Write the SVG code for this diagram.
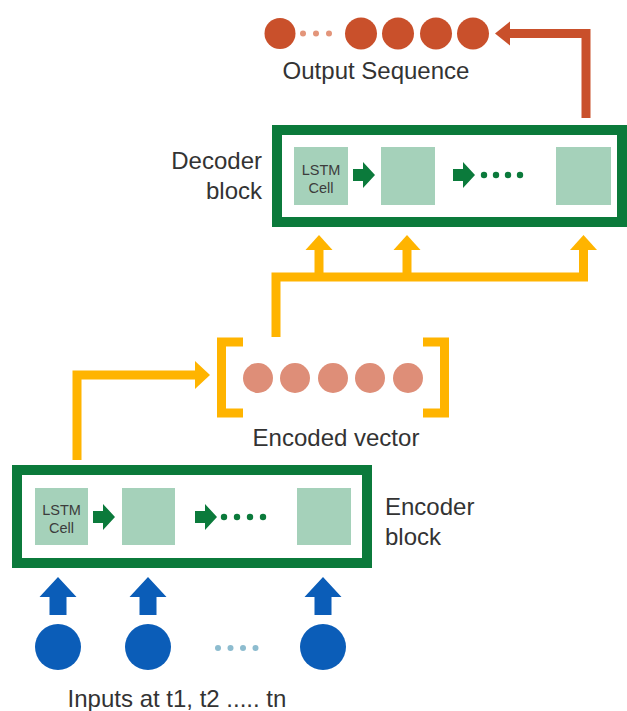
<svg xmlns="http://www.w3.org/2000/svg" width="627" height="711" viewBox="0 0 627 711">
<defs>
<style>
.lbl{font-family:"Liberation Sans",Arial,sans-serif;font-size:24px;fill:#333333}
.cellt{font-family:"Liberation Sans",Arial,sans-serif;font-size:14.5px;fill:#3c3c3c;text-anchor:middle}
.box{fill:#ffffff;stroke:#0B7A3B;stroke-width:10}
.cell{fill:#A5D1BA}
.garrow{fill:#0B7A3B}
.gdot{fill:#0B7A3B}
.yl{fill:none;stroke:#FFB400;stroke-width:9;stroke-linejoin:miter}
.yh{fill:#FFB400}
.ol{fill:none;stroke:#C9502B;stroke-width:9}
.oh{fill:#C9502B}
.bh{fill:#0B5DB8}
.out{fill:#C9502B}
.enc{fill:#DE8E78}
</style>
</defs>
<rect width="627" height="711" fill="#ffffff"/>

<g id="output-sequence">
<circle class="out" cx="280" cy="33.5" r="15.5"/>
<circle cx="303" cy="33.5" r="3" fill="#E3957A"/>
<circle cx="316" cy="33.5" r="3" fill="#E3957A"/>
<circle cx="329" cy="33.5" r="3" fill="#E3957A"/>
<circle class="out" cx="361" cy="33.5" r="16"/>
<circle class="out" cx="398" cy="33.5" r="16"/>
<circle class="out" cx="436" cy="33.5" r="16"/>
<circle class="out" cx="473" cy="33.5" r="16"/>
<text class="lbl" x="376" y="79" text-anchor="middle">Output Sequence</text>
</g>

<g id="decoder-block">
<rect class="box" x="277" y="130" width="345" height="92"/>
<rect class="cell" x="294" y="147" width="54" height="58"/>
<text class="cellt" x="321" y="175">LSTM</text>
<text class="cellt" x="321" y="193">Cell</text>
<path class="garrow" d="M353,169 h10 v-7 l12,13 l-12,13 v-7 h-10 z"/>
<rect class="cell" x="381" y="147" width="54" height="58"/>
<path class="garrow" d="M453,169 h10 v-7 l12,13 l-12,13 v-7 h-10 z"/>
<circle class="gdot" cx="484" cy="175" r="3.2"/>
<circle class="gdot" cx="496" cy="175" r="3.2"/>
<circle class="gdot" cx="508" cy="175" r="3.2"/>
<circle class="gdot" cx="520" cy="175" r="3.2"/>
<rect class="cell" x="556" y="147" width="55" height="58"/>
<text class="lbl" x="262" y="169" text-anchor="end" font-size="25">Decoder</text>
<text class="lbl" x="262" y="199" text-anchor="end" font-size="25">block</text>
</g>

<g id="encoded-vector">
<path class="yl" d="M243,342 H221.5 V413 H243"/>
<path class="yl" d="M423,342 H444.5 V413 H423"/>
<circle class="enc" cx="258" cy="378" r="15"/>
<circle class="enc" cx="295" cy="378" r="15"/>
<circle class="enc" cx="333" cy="378" r="15"/>
<circle class="enc" cx="370" cy="378" r="15"/>
<circle class="enc" cx="408" cy="378" r="15"/>
<text class="lbl" x="336" y="446" text-anchor="middle">Encoded vector</text>
</g>

<g id="encoder-block">
<rect class="box" x="17" y="470" width="350" height="93"/>
<rect class="cell" x="35" y="488" width="53" height="57"/>
<text class="cellt" x="61.5" y="515">LSTM</text>
<text class="cellt" x="61.5" y="533">Cell</text>
<path class="garrow" d="M93,511 h10 v-7 l12,13 l-12,13 v-7 h-10 z"/>
<rect class="cell" x="122" y="488" width="53" height="57"/>
<path class="garrow" d="M195,511 h10 v-7 l12,13 l-12,13 v-7 h-10 z"/>
<circle class="gdot" cx="224" cy="517" r="3.2"/>
<circle class="gdot" cx="237" cy="517" r="3.2"/>
<circle class="gdot" cx="250" cy="517" r="3.2"/>
<circle class="gdot" cx="263" cy="517" r="3.2"/>
<rect class="cell" x="297" y="488" width="54" height="57"/>
<text class="lbl" x="385" y="515" font-size="25">Encoder</text>
<text class="lbl" x="385" y="545" font-size="25">block</text>
</g>

<g id="inputs">
<circle cx="58" cy="647" r="23" fill="#0B5DB8"/>
<circle cx="148" cy="647" r="23" fill="#0B5DB8"/>
<circle cx="218" cy="648" r="3" fill="#8DBCCF"/>
<circle cx="230.5" cy="648" r="3" fill="#8DBCCF"/>
<circle cx="243" cy="648" r="3" fill="#8DBCCF"/>
<circle cx="255.5" cy="648" r="3" fill="#8DBCCF"/>
<circle cx="323" cy="647" r="23" fill="#0B5DB8"/>
<text class="lbl" x="177" y="707" text-anchor="middle">Inputs at t1, t2 ..... tn</text>
</g>

<g id="connectors">
<path class="bh" d="M58,577 l18.5,20 h-10 v18 h-17 v-18 h-10 z"/>
<path class="bh" d="M148,577 l18.5,20 h-10 v18 h-17 v-18 h-10 z"/>
<path class="bh" d="M323,577 l18.5,20 h-10 v18 h-17 v-18 h-10 z"/>
<path class="yl" d="M77,460 V375 H196"/>
<path class="yh" d="M210,375 L195,361 L195,389 z"/>
<path class="yl" d="M276,337 V277 H583.5 V249"/>
<path class="yl" d="M319,277 V249"/>
<path class="yl" d="M407,277 V249"/>
<path class="yh" d="M319,235 L332.5,250 L305.5,250 z"/>
<path class="yh" d="M407,235 L420.5,250 L393.5,250 z"/>
<path class="yh" d="M583.5,235 L597,250 L570,250 z"/>
<path class="ol" d="M586,118 V33.5 H509"/>
<path class="oh" d="M495,33.5 L510,21.5 L510,45.5 z"/>
</g>
</svg>
